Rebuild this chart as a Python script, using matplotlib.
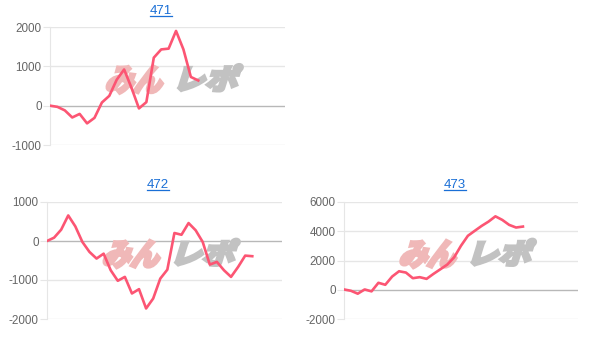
import matplotlib
matplotlib.use('Agg')
import matplotlib.pyplot as plt
from matplotlib.textpath import TextPath
from matplotlib.patches import PathPatch
from matplotlib.font_manager import FontProperties
from matplotlib.transforms import Affine2D
from matplotlib.lines import Line2D

plt.rcParams['axes.unicode_minus'] = False

# data (差枚 per game slot)
titles = ["471", "472", "473"]
vals_471 = [0, -30, -120, -300, -210, -450, -310, 80, 250, 660, 920, 450, -70, 90,
            1220, 1430, 1450, 1900, 1430, 730, 640]
vals_472 = [0, 85, 290, 655, 375, -25, -280, -450, -325, -750, -1020, -920, -1345,
            -1235, -1730, -1475, -965, -735, 205, 160, 460, 275, -25, -605, -535,
            -750, -920, -665, -375, -390]
vals_473 = [20, -70, -270, 20, -110, 475, 340, 905, 1265, 1175, 790, 860, 745, 1085,
            1400, 1720, 2215, 3010, 3690, 4030, 4365, 4660, 5020, 4775, 4435, 4255, 4320]
yticks_471 = [-1000, 0, 1000, 2000]
yticks_472 = [-2000, -1000, 0, 1000]
yticks_473 = [-2000, 0, 2000, 4000, 6000]

LINE = '#fc5573'
GRID = '#e6e6e6'
TICK = '#666666'
TITLE = '#1a6fd6'

W, H = 605, 345
fig = plt.figure(figsize=(W / 100, H / 100), dpi=100)

# (left px, top px, right px, bottom px, xmax, title center x px, title y px)
panels = [
    (vals_471, yticks_471, 50, 27, 285, 145, 31.7, 161, 11),
    (vals_472, yticks_472, 47, 202, 282, 319, 33.2, 158, 185),
    (vals_473, yticks_473, 344, 202, 578, 319, 34.0, 455, 185),
]

fp_wm = FontProperties(family='Noto Sans CJK JP', weight='bold')
# watermark parts: text, colour, box in axes fractions (x0, x1, top, bottom)
wm_parts = [("みん", '#f0b8b8', 0.235, 0.50, 0.33, 0.56),
            ("レポ", '#c2c2c2', 0.545, 0.82, 0.32, 0.54)]

for title, (vals, yt, l, t, r, b, xmax, tx, ty) in zip(titles, panels):
    ax = fig.add_axes([l / W, (H - b) / H, (r - l) / W, (b - t) / H])
    ax.plot(range(len(vals)), vals, color=LINE, lw=1.9, zorder=5)
    ax.set_xlim(0, xmax)
    ax.set_ylim(yt[0], yt[-1])
    ax.set_yticks(yt)
    ax.set_xticks([])
    for v in yt:
        ax.axhline(v, color='#b8b8b8' if v == 0 else GRID, lw=1, zorder=1)
    for s in ['top', 'right', 'bottom']:
        ax.spines[s].set_visible(False)
    ax.spines['left'].set_color(GRID)
    ax.tick_params(axis='y', length=5, color=GRID, labelcolor=TICK,
                   labelsize=8.4, pad=1)
    for lab in ax.get_yticklabels():
        lab.set_family('Liberation Sans')

    # watermark みんレポ, fitted into a box, slanted and thickened
    for txt, col, fx0, fx1, ft, fb in wm_parts:
        tp = TextPath((0, 0), txt, prop=fp_wm, size=30)
        ext = tp.get_extents()
        bw = (fx1 - fx0) * (r - l)
        bh = (fb - ft) * (b - t)
        slant = 0.3
        sx = (bw - slant * bh) / ext.width
        sy = bh / ext.height
        tr = (Affine2D().translate(-ext.x0, -ext.y0).scale(sx, sy)
              .skew(slant, 0)
              .translate(l + fx0 * (r - l), H - (t + fb * (b - t))))
        ax.add_patch(PathPatch(tr.transform_path(tp), transform=None,
                               facecolor=col, edgecolor=col, lw=2.6,
                               joinstyle='miter', zorder=2, clip_on=False))

    fig.text(tx / W, (H - ty) / H, title, ha='center', va='center',
             color=TITLE, fontsize=9.5, family='Liberation Sans')

fig.canvas.draw()
rend = fig.canvas.get_renderer()
for txt in fig.texts[:]:
    bb = txt.get_window_extent(rend)
    fig.add_artist(Line2D([bb.x0 / W, bb.x1 / W], [(bb.y0 + 1) / H] * 2,
                          color=TITLE, lw=0.9))

fig.savefig('out.png', dpi=100)
